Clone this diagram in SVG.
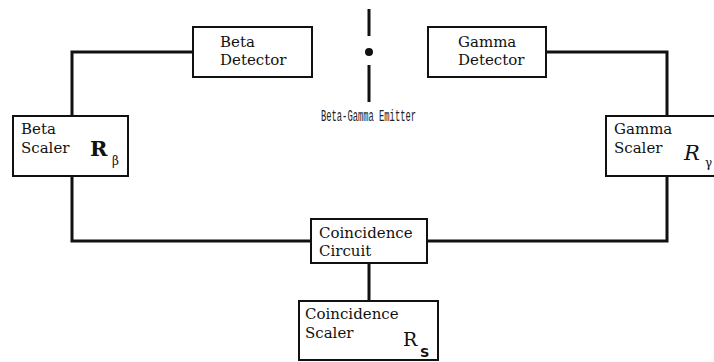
<svg xmlns="http://www.w3.org/2000/svg" width="714" height="362" viewBox="0 0 714 362">
<style>
.box{fill:#fff;stroke:#111;stroke-width:2}
.wire{fill:none;stroke:#111;stroke-width:3;stroke-linejoin:miter}
.t{font-family:"DejaVu Serif","Liberation Serif",serif;font-size:15px;fill:#111}
.R{font-family:"DejaVu Serif","Liberation Serif",serif;font-size:21px;font-weight:bold;fill:#111}
.sub{font-family:"DejaVu Serif","Liberation Serif",serif;font-size:12px;fill:#111}
.mono{font-family:"Liberation Mono","DejaVu Sans Mono",monospace;font-size:16px;fill:#222}
</style>
<rect width="714" height="362" fill="#fff"/>
<g id="connectors">
<polyline class="wire" points="193,52 72,52 72,116"/>
<polyline class="wire" points="72,176 72,241 311,241"/>
<polyline class="wire" points="546,52 667,52 667,116"/>
<polyline class="wire" points="427,241 667,241 667,176"/>
<line class="wire" x1="369" y1="263" x2="369" y2="301"/>
</g>
<g id="emitter">
<line x1="369" y1="9" x2="369" y2="36" stroke="#111" stroke-width="3"/>
<circle cx="369" cy="52" r="4" fill="#111"/>
<line x1="369" y1="65" x2="369" y2="102" stroke="#111" stroke-width="3"/>
<text class="mono" x="321" y="121" textLength="95" lengthAdjust="spacingAndGlyphs">Beta-Gamma Emitter</text>
</g>
<g id="beta-detector">
<rect class="box" x="193" y="27" width="119" height="50"/>
<text class="t" x="220" y="47">Beta</text>
<text class="t" x="220" y="65">Detector</text>
</g>
<g id="gamma-detector">
<rect class="box" x="428" y="27" width="118" height="50"/>
<text class="t" x="458" y="47">Gamma</text>
<text class="t" x="458" y="65">Detector</text>
</g>
<g id="beta-scaler">
<rect class="box" x="13" y="116" width="115" height="60"/>
<text class="t" x="21" y="134">Beta</text>
<text class="t" x="21" y="153">Scaler</text>
<text class="R" x="90" y="156">R</text>
<text class="sub" x="112" y="165">β</text>
</g>
<g id="gamma-scaler">
<rect class="box" x="606" y="116" width="120" height="60"/>
<text class="t" x="614" y="134">Gamma</text>
<text class="t" x="614" y="153">Scaler</text>
<text class="R" x="684" y="160" style="font-style:italic;font-weight:normal">R</text>
<text class="sub" x="705" y="167">γ</text>
</g>
<g id="coincidence-circuit">
<rect class="box" x="311" y="219" width="116" height="44"/>
<text class="t" x="319" y="238">Coincidence</text>
<text class="t" x="319" y="256">Circuit</text>
</g>
<g id="coincidence-scaler">
<rect class="box" x="299" y="301" width="139" height="59"/>
<text class="t" x="305" y="319">Coincidence</text>
<text class="t" x="305" y="338">Scaler</text>
<text class="R" x="403" y="346" style="font-weight:normal;font-size:19px">R</text>
<text class="sub" x="420" y="357" style="font-family:'DejaVu Sans',sans-serif;font-weight:bold;font-size:13px">S</text>
</g>
</svg>
